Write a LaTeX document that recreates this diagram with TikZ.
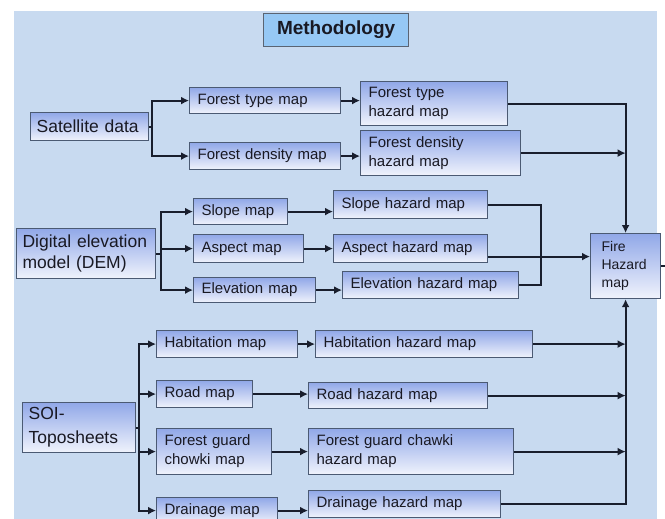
\documentclass[tikz,border=0pt]{standalone}
\usepackage{fontspec}
\setmainfont{Liberation Sans}
\usepackage{tikz}
\usetikzlibrary{arrows.meta, positioning}
\definecolor{panelblue}{RGB}{200,218,240}
\definecolor{boxtop}{RGB}{145,168,232}
\definecolor{boxbot}{RGB}{240,243,252}
\definecolor{boxline}{RGB}{75,90,115}
\definecolor{titlefill}{RGB}{150,200,245}
\definecolor{titleline}{RGB}{90,100,115}
\definecolor{linedark}{RGB}{25,30,45}
\definecolor{textdark}{RGB}{25,25,35}

\begin{document}
\begin{tikzpicture}[x=1pt, y=-1pt,
  box/.style={rectangle, draw=boxline, line width=1.2pt, top color=boxtop, bottom color=boxbot,
              align=left, anchor=north west, inner xsep=8pt, inner ysep=0pt,
              text=textdark, font=\fontsize{15}{19}\selectfont},
  src/.style={box, inner xsep=6pt, font=\fontsize{17.5}{21}\selectfont},
  title/.style={rectangle, draw=titleline, line width=1.2pt, fill=titlefill, anchor=north west,
                minimum width=145pt, minimum height=33pt, text=textdark,
                font=\fontsize{19}{22}\selectfont\bfseries},
  arrow/.style={-{Latex[length=8pt,width=8pt]}, line width=2pt, draw=linedark},
  line/.style={line width=2pt, draw=linedark}
]
\clip (0,0) rectangle (665,519);
\fill[white] (0,0) rectangle (665,519);
\fill[panelblue] (14,11) rectangle (657,530);

\node[title] (meth) at (263,13) {Methodology};

% sources
\node[src, text width=106pt, minimum height=28pt] (sat) at (30,112) {Satellite data};
\node[src, text width=127pt, minimum height=50pt] (dem) at (16,228) {Digital elevation\\model (DEM)};
\node[src, text width=101pt, minimum height=50pt, font=\fontsize{17.5}{24}\selectfont] (soi) at (22,402) {SOI-\\Toposheets};

% maps
\node[box, text width=135pt, minimum height=26pt] (ftmap) at (189,87) {Forest type map};
\node[box, text width=135pt, minimum height=27pt] (fdmap) at (189,142) {Forest density map};
\node[box, text width=78pt, minimum height=26pt] (slope) at (193,198) {Slope map};
\node[box, text width=94pt, minimum height=28pt] (aspect) at (193,234) {Aspect map};
\node[box, text width=106pt, minimum height=25pt] (elev) at (193,277) {Elevation map};
\node[box, text width=125pt, minimum height=27pt] (hab) at (156,330) {Habitation map};
\node[box, text width=80pt, minimum height=27pt] (road) at (156,380) {Road map};
\node[box, text width=99pt, minimum height=46pt] (fg) at (156,428) {Forest guard\\chowki map};
\node[box, text width=105pt, minimum height=26pt] (drain) at (156,497) {Drainage map};

% hazard maps
\node[box, text width=131pt, minimum height=44pt] (fthaz) at (360,81) {Forest type\\hazard map};
\node[box, text width=144pt, minimum height=45pt] (fdhaz) at (360,130) {Forest density\\hazard map};
\node[box, text width=138pt, minimum height=28pt] (slhaz) at (333,190) {Slope hazard map};
\node[box, text width=138pt, minimum height=28pt] (ashaz) at (333,234) {Aspect hazard map};
\node[box, text width=160pt, minimum height=27pt] (elhaz) at (342,271) {Elevation hazard map};
\node[box, text width=201pt, minimum height=27pt] (habhaz) at (315,330) {Habitation hazard map};
\node[box, text width=163pt, minimum height=26pt] (roadhaz) at (308,382) {Road hazard map};
\node[box, text width=189pt, minimum height=46pt] (fghaz) at (308,428) {Forest guard chawki\\hazard map};
\node[box, text width=176pt, minimum height=27pt] (drhaz) at (308,490) {Drainage hazard map};

\node[box, inner xsep=11pt, text width=48pt, minimum height=65pt, font=\fontsize{14}{18}\selectfont] (fire) at (590,233) {Fire\\Hazard\\map};

% satellite data
\draw[arrow] (sat.east) -- +(3,0) |- (ftmap.west);
\draw[arrow] (sat.east) -- +(3,0) |- (fdmap.west);
\draw[arrow] (ftmap.east) -- (ftmap.east -| fthaz.west);
\draw[arrow] (fdmap.east) -- (fdmap.east -| fdhaz.west);
\draw[arrow] (fthaz.east) -| (fire.north);
\draw[arrow] (fdhaz.east) -- (fdhaz.east -| fire.north);

% DEM
\draw[arrow] (dem.east) -- +(5,0) |- (slope.west);
\draw[arrow] (dem.east) -- +(5,0) |- (aspect.west);
\draw[arrow] (dem.east) -- +(5,0) |- (elev.west);
\draw[arrow] (slope.east) -- (slope.east -| slhaz.west);
\draw[arrow] (aspect.east) -- (aspect.east -| ashaz.west);
\draw[arrow] (elev.east) -- (elev.east -| elhaz.west);
\draw[line] (slhaz.east) -- ++(53,0) |- (elhaz.east);
\coordinate (asout) at ([yshift=-8pt]ashaz.east);
\draw[arrow] (asout) -- (asout -| fire.west);
\draw[line] (fire.east) -- +(5,0);

% toposheets
\draw[arrow] (soi.east) -- +(3,0) |- (hab.west);
\draw[arrow] (soi.east) -- +(3,0) |- (road.west);
\draw[arrow] (soi.east) -- +(3,0) |- (fg.west);
\draw[arrow] (soi.east) -- +(3,0) |- (drain.west);
\draw[arrow] (hab.east) -- (hab.east -| habhaz.west);
\draw[arrow] (road.east) -- (road.east -| roadhaz.west);
\draw[arrow] (fg.east) -- (fg.east -| fghaz.west);
\draw[arrow] (drain.east) -- (drain.east -| drhaz.west);
\draw[arrow] (habhaz.east) -- (habhaz.east -| fire.south);
\draw[arrow] (roadhaz.east) -- (roadhaz.east -| fire.south);
\draw[arrow] (fghaz.east) -- (fghaz.east -| fire.south);
\draw[arrow] (drhaz.east) -| (fire.south);
\end{tikzpicture}
\end{document}
